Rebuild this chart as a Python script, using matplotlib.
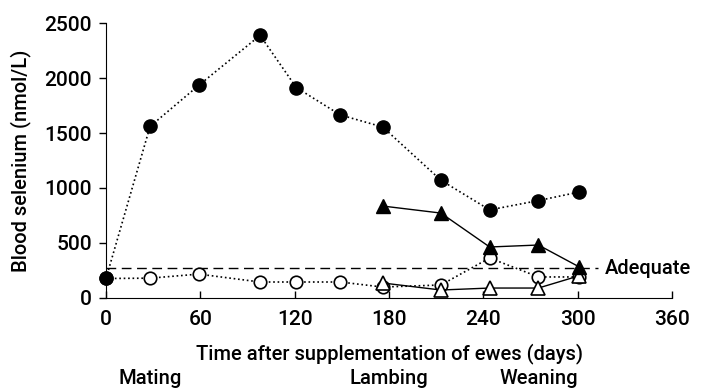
# Blood selenium in ewes after supplementation
import matplotlib
matplotlib.use("Agg")
import matplotlib.pyplot as plt

plt.rcParams["font.family"] = ["Roboto", "DejaVu Sans"]
plt.rcParams["font.weight"] = "medium"
plt.rcParams["axes.labelweight"] = "medium"

# days after supplementation
days_ewe = [0, 28, 59, 98, 121, 149, 176, 213, 244, 275, 301]
days_lamb = [176, 213, 244, 275, 301]

# blood selenium (nmol/L)
supp_ewes = [175, 1560, 1935, 2390, 1915, 1665, 1555, 1070, 800, 885, 963]
ctrl_ewes = [175, 178, 215, 143, 143, 143, 97, 116, 362, 189, 189]
supp_lambs = [835, 771, 462, 480, 280]
ctrl_lambs = [134, 70, 88, 88, 200]

adequate = 270
events = ["Mating", "Lambing", "Weaning"]
event_days = [28, 180, 275]

fig = plt.figure(figsize=(7.03, 3.89), dpi=100)
ax = fig.add_axes([0.1508, 0.2347, 0.8052, 0.7054])

ax.plot([0, 313], [adequate, adequate], color="black", linestyle=(0, (7, 4)), linewidth=1)
ax.text(317, adequate, "Adequate", fontsize=14.5, va="center", ha="left", weight="medium")

ax.plot(days_ewe, ctrl_ewes, linestyle=":", color="black", linewidth=1.2,
        marker="o", markersize=9, markerfacecolor="white", markeredgecolor="black",
        markeredgewidth=1.2, clip_on=False)
ax.plot(days_lamb, ctrl_lambs, linestyle="-", color="black", linewidth=1,
        marker="^", markersize=10, markerfacecolor="white", markeredgecolor="black",
        markeredgewidth=1.2, clip_on=False)
ax.plot(days_ewe, supp_ewes, linestyle=":", color="black", linewidth=1.2,
        marker="o", markersize=9.5, markerfacecolor="black", clip_on=False)
ax.plot(days_lamb, supp_lambs, linestyle="-", color="black", linewidth=1,
        marker="^", markersize=10, markerfacecolor="black", clip_on=False)

ax.set_xlim(0, 360)
ax.set_ylim(0, 2500)
ax.set_xticks([0, 60, 120, 180, 240, 300, 360])
ax.set_yticks([0, 500, 1000, 1500, 2000, 2500])
ax.spines["top"].set_visible(False)
ax.spines["right"].set_visible(False)
ax.tick_params(axis="x", direction="in", length=5, width=1, pad=9, labelsize=15)
ax.tick_params(axis="y", direction="out", length=5, width=1, pad=5, labelsize=15)

ax.set_xlabel("Time after supplementation of ewes (days)", fontsize=14.5, labelpad=10,
              weight="medium")
ax.set_ylabel("Blood selenium (nmol/L)", fontsize=14.5, labelpad=10, weight="medium")

for name, d in zip(events, event_days):
    ax.text(d, -0.295, name, transform=ax.get_xaxis_transform(),
            fontsize=14.5, ha="center", va="center", weight="medium")

fig.savefig("out.png", dpi=100)
